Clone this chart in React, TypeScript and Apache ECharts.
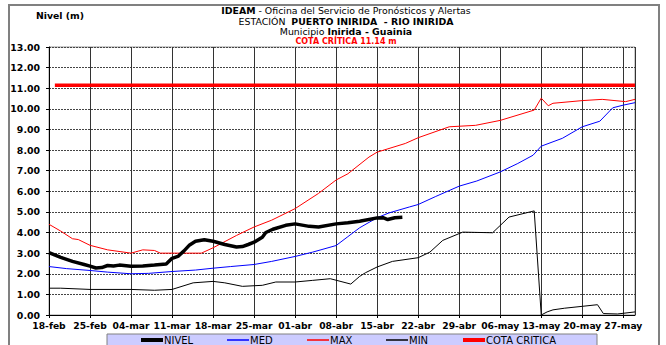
import React, { useEffect, useRef } from "react";
import * as echarts from "echarts";

const xTickLabels = [
  "18-feb", "25-feb", "04-mar", "11-mar", "18-mar", "25-mar", "01-abr", "08-abr",
  "15-abr", "22-abr", "29-abr", "06-may", "13-may", "20-may", "27-may",
];

// [day since 18-feb, level m]
const nivel: [number, number][] = [
  [0, 3.03], [2, 2.8], [4, 2.6], [6, 2.45], [7, 2.37], [8, 2.28], [9, 2.3], [10, 2.4],
  [11, 2.38], [12, 2.42], [14, 2.37], [16, 2.38], [18, 2.42], [20, 2.47], [21, 2.75],
  [22, 2.84], [23, 3.1], [24, 3.4], [25, 3.58], [26.5, 3.65], [28, 3.58], [30, 3.42],
  [32, 3.3], [33, 3.32], [34, 3.42], [35, 3.53], [36.4, 3.77], [37, 4.0], [38.2, 4.16],
  [40.4, 4.35], [42, 4.42], [44.4, 4.3], [46, 4.27], [49, 4.42], [51, 4.47], [53, 4.55],
  [56, 4.71], [57, 4.72], [57.8, 4.63], [59, 4.72], [60.3, 4.74],
];

const med: [number, number][] = [
  [0, 2.35], [3, 2.25], [7, 2.16], [10, 2.08], [14, 2.0], [17, 2.02], [21, 2.11],
  [25, 2.18], [28, 2.27], [31, 2.35], [35, 2.45], [38, 2.6], [42, 2.84], [45, 3.05],
  [49, 3.37], [51, 3.8], [53, 4.23], [56, 4.72], [58, 4.95], [61.5, 5.24], [63, 5.36],
  [66, 5.75], [70, 6.25], [73, 6.5], [77, 6.94], [80, 7.35], [82.6, 7.75], [84, 8.19],
  [87.6, 8.57], [91, 9.13], [94, 9.4], [96.2, 10.05], [98, 10.18], [100, 10.3],
];

const max: [number, number][] = [
  [0, 4.4], [2, 4.07], [4, 3.7], [5, 3.66], [7, 3.38], [10, 3.16], [14, 3.0], [16, 3.16],
  [18, 3.13], [19, 3.0], [21, 3.0], [26, 3.0], [28, 3.26], [32, 3.86], [35, 4.27],
  [38, 4.6], [42, 5.16], [46, 5.9], [49, 6.55], [51, 6.85], [54.6, 7.66], [56, 7.9],
  [60.8, 8.32], [63, 8.6], [68.3, 9.13], [72.8, 9.2], [77, 9.44], [82.8, 9.94],
  [84, 10.52], [85.2, 10.15], [86, 10.27], [91, 10.4], [94.4, 10.46], [98.4, 10.35],
  [100, 10.46],
];

const min: [number, number][] = [
  [0, 1.3], [2, 1.3], [7, 1.24], [14, 1.24], [18, 1.2], [21, 1.24], [24.6, 1.56],
  [28, 1.63], [30, 1.56], [33, 1.39], [36.4, 1.44], [38.7, 1.6], [42, 1.6], [45, 1.68],
  [48, 1.76], [51.5, 1.5], [53, 1.87], [54, 2.05], [56, 2.33], [58.6, 2.6], [63, 2.78],
  [65, 3.05], [67.2, 3.62], [70.6, 4.02], [75.7, 3.99], [78.5, 4.75], [82.8, 5.05],
  [84, 0.0], [85, 0.15], [86, 0.25], [88, 0.33], [91, 0.42], [93.6, 0.5], [94.6, 0.07],
  [97, 0.05], [100, 0.15],
];

const cotaCritica: [number, number][] = [
  [1, 11.14], [100, 11.14],
];

const FONT = "DejaVu Sans";

const legendDefs = [
  { name: "NIVEL", left: 141, thick: true, color: "#000000" },
  { name: "MED", left: 227, thick: false, color: "#0000ff" },
  { name: "MAX", left: 307, thick: false, color: "#ff0000" },
  { name: "MIN", left: 386, thick: false, color: "#000000" },
  { name: "COTA CRITICA", left: 463, thick: true, color: "#ff0000" },
];

export default function App() {
  const ref = useRef<HTMLDivElement>(null);
  useEffect(() => {
    const chart = echarts.init(ref.current!, null, { renderer: "svg" });
    const titleBase = {
      left: 346,
      textAlign: "center",
      padding: 0,
    };
    const mkRich = (size: number) => ({
      fontFamily: FONT, fontSize: size, fontWeight: "normal", color: "#000",
      rich: { b: { fontFamily: FONT, fontSize: size, fontWeight: "bold", color: "#000" } },
    });
    const option: any = {
      animation: false,
      backgroundColor: "#ffffff",
      title: [
        {
          ...titleBase,
          top: 6,
          text: "{b|IDEAM} - Oficina del Servicio de Pronósticos y Alertas",
          textStyle: mkRich(9.4),
        },
        {
          ...titleBase,
          top: 16.5,
          text: "ESTACIÓN  {b|PUERTO INIRIDA  - RIO INIRIDA}",
          textStyle: mkRich(9.4),
        },
        {
          ...titleBase,
          top: 27,
          text: "Municipio {b|Inirida - Guainia}",
          textStyle: mkRich(9.4),
        },
        {
          ...titleBase,
          top: 37,
          text: "COTA CRÍTICA 11.14 m",
          textStyle: { fontFamily: FONT, fontSize: 8, fontWeight: "bold", color: "#ff0000" },
        },
        {
          left: 36,
          top: 11,
          padding: 0,
          text: "Nivel (m)",
          textStyle: { fontFamily: FONT, fontSize: 9.3, fontWeight: "bold", color: "#000" },
        },
      ],
      graphic: [
        {
          type: "rect",
          shape: { x: 9, y: 5, width: 650, height: 360 },
          style: { fill: "none", stroke: "#808080", lineWidth: 2 },
          z: -10,
        },
        {
          type: "rect",
          shape: { x: 107, y: 334, width: 490, height: 15 },
          style: { fill: "#ccccff", stroke: "#808080", lineWidth: 1 },
          z: -5,
        },
      ],
      legend: legendDefs.map((d) => ({
        data: [{ name: d.name, icon: "rect", itemStyle: { color: d.color } }],
        left: d.left,
        top: 335,
        padding: 0,
        itemWidth: 22,
        itemHeight: d.thick ? 4 : 1.5,
        selectedMode: false,
        textStyle: { fontFamily: FONT, fontSize: 10, color: "#000", padding: [0, 0, 0, -4] },
      })),
      grid: {
        left: 49,
        right: 31,
        top: 47,
        bottom: 30,
        show: true,
        borderColor: "#999999",
        borderWidth: 1,
      },
      xAxis: {
        type: "value",
        min: 0,
        max: 100,
        interval: 7,
        axisLine: { show: true, onZero: false, lineStyle: { color: "#000", width: 1 } },
        axisTick: { show: true, inside: false, length: 3, lineStyle: { color: "#000" } },
        axisLabel: {
          margin: 6,
          fontFamily: FONT,
          fontSize: 9.2,
          fontWeight: "bold",
          color: "#000",
          showMaxLabel: false,
          formatter: (v: number) => {
            const i = v / 7;
            return Number.isInteger(i) && xTickLabels[i] ? xTickLabels[i] : "";
          },
        },
        splitLine: { show: true, lineStyle: { color: "#333333", width: 1 } },
      },
      yAxis: {
        type: "value",
        min: 0,
        max: 13,
        interval: 1,
        axisLine: { show: true, lineStyle: { color: "#000", width: 1 } },
        axisTick: { show: true, inside: false, length: 3, lineStyle: { color: "#000" } },
        axisLabel: {
          margin: 9,
          fontFamily: FONT,
          fontSize: 9.4,
          fontWeight: "bold",
          color: "#000",
          formatter: (v: number) => v.toFixed(2),
        },
        splitLine: { show: true, lineStyle: { color: "#444", width: 1, type: [2, 1] } },
      },
      series: [
        {
          name: "COTA CRITICA", type: "line", data: cotaCritica, showSymbol: false,
          lineStyle: { color: "#ff0000", width: 3.5 }, itemStyle: { color: "#ff0000" }, z: 3,
        },
        {
          name: "MAX", type: "line", data: max, showSymbol: false,
          lineStyle: { color: "#ff0000", width: 1 }, itemStyle: { color: "#ff0000" }, z: 3,
        },
        {
          name: "MED", type: "line", data: med, showSymbol: false,
          lineStyle: { color: "#0000ff", width: 1 }, itemStyle: { color: "#0000ff" }, z: 3,
        },
        {
          name: "MIN", type: "line", data: min, showSymbol: false,
          lineStyle: { color: "#000000", width: 1 }, itemStyle: { color: "#000000" }, z: 3,
        },
        {
          name: "NIVEL", type: "line", data: nivel, showSymbol: false,
          lineStyle: { color: "#000000", width: 3.5 }, itemStyle: { color: "#000000" }, z: 4,
        },
      ],
    };
    chart.setOption(option);
    return () => chart.dispose();
  }, []);
  return (
    <div
      ref={ref}
      style={{ position: "fixed", left: 0, top: 0, width: 666, height: 345 }}
    />
  );
}
